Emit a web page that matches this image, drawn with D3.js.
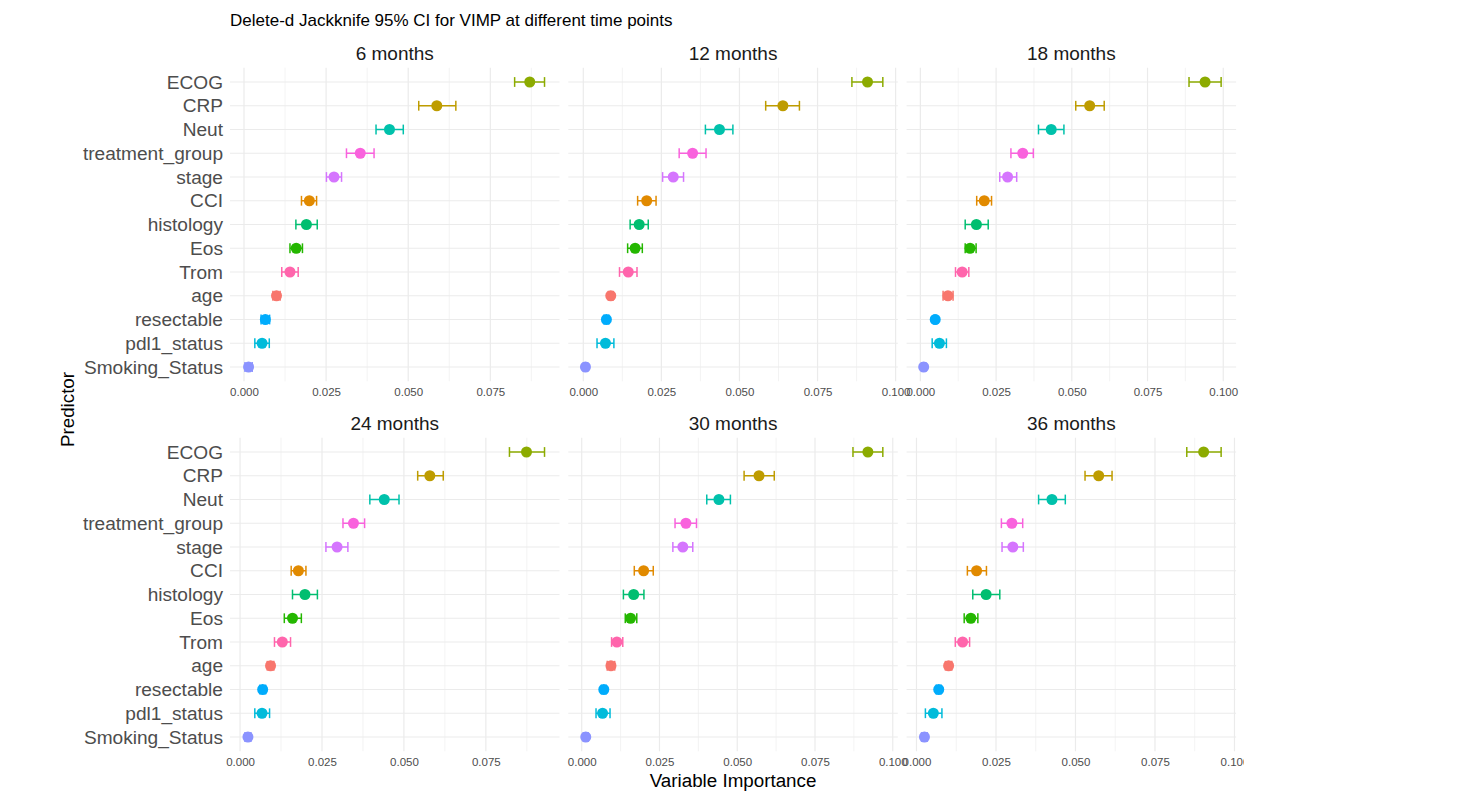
<!DOCTYPE html>
<html><head><meta charset="utf-8">
<script src="https://cdn.jsdelivr.net/npm/d3@7"></script>
<style>
body{margin:0;background:#fff;}
text{font-family:"Liberation Sans",Arial,Helvetica,sans-serif;}
</style>
</head><body>
<svg id="chart" width="1479" height="801"></svg>
<script>
// ---------------- data ----------------
const predictors = ["ECOG","CRP","Neut","treatment_group","stage","CCI","histology","Eos","Trom","age","resectable","pdl1_status","Smoking_Status"];
const timepoints = ["6 months","12 months","18 months","24 months","30 months","36 months"];

const vimp_6m  = [0.0870,0.0587,0.0443,0.0354,0.0274,0.0199,0.0190,0.0159,0.0140,0.0099,0.0065,0.0055,0.0014];
const lower_6m = [0.0824,0.0532,0.0402,0.0312,0.0251,0.0175,0.0158,0.0140,0.0115,0.0088,0.0052,0.0033,0.0003];
const upper_6m = [0.0915,0.0645,0.0485,0.0396,0.0297,0.0221,0.0223,0.0178,0.0165,0.0110,0.0078,0.0077,0.0025];

const vimp_12m  = [0.0910,0.0639,0.0436,0.0350,0.0288,0.0203,0.0179,0.0166,0.0144,0.0088,0.0074,0.0071,0.0007];
const lower_12m = [0.0860,0.0584,0.0391,0.0307,0.0254,0.0174,0.0150,0.0142,0.0116,0.0080,0.0066,0.0044,0.0000];
const upper_12m = [0.0959,0.0692,0.0479,0.0393,0.0321,0.0233,0.0208,0.0189,0.0172,0.0096,0.0082,0.0098,0.0014];

const vimp_18m  = [0.0940,0.0559,0.0432,0.0338,0.0288,0.0211,0.0185,0.0164,0.0138,0.0091,0.0049,0.0063,0.0011];
const lower_18m = [0.0887,0.0513,0.0390,0.0299,0.0262,0.0186,0.0148,0.0148,0.0116,0.0075,0.0045,0.0039,0.0004];
const upper_18m = [0.0993,0.0607,0.0474,0.0373,0.0318,0.0235,0.0224,0.0184,0.0160,0.0108,0.0053,0.0086,0.0018];

const vimp_24m  = [0.0874,0.0579,0.0440,0.0346,0.0296,0.0178,0.0198,0.0160,0.0129,0.0093,0.0069,0.0067,0.0024];
const lower_24m = [0.0822,0.0542,0.0396,0.0314,0.0262,0.0156,0.0160,0.0135,0.0105,0.0083,0.0060,0.0045,0.0015];
const upper_24m = [0.0929,0.0620,0.0485,0.0380,0.0329,0.0201,0.0236,0.0187,0.0154,0.0103,0.0078,0.0090,0.0033];

const vimp_30m  = [0.0920,0.0570,0.0441,0.0335,0.0325,0.0199,0.0167,0.0157,0.0113,0.0094,0.0071,0.0067,0.0013];
const lower_30m = [0.0872,0.0522,0.0402,0.0300,0.0293,0.0169,0.0134,0.0140,0.0096,0.0082,0.0063,0.0046,0.0005];
const upper_30m = [0.0968,0.0619,0.0478,0.0369,0.0357,0.0230,0.0200,0.0177,0.0132,0.0106,0.0079,0.0091,0.0021];

const vimp_36m  = [0.0903,0.0573,0.0426,0.0300,0.0303,0.0189,0.0219,0.0171,0.0145,0.0101,0.0070,0.0053,0.0025];
const lower_36m = [0.0850,0.0530,0.0384,0.0267,0.0269,0.0160,0.0177,0.0150,0.0122,0.0091,0.0062,0.0028,0.0016];
const upper_36m = [0.0958,0.0615,0.0468,0.0334,0.0336,0.0220,0.0262,0.0193,0.0167,0.0111,0.0078,0.0080,0.0034];

const xTickValues = [0, 0.025, 0.05, 0.075, 0.1];
const xMinorValues = [0.0125, 0.0375, 0.0625, 0.0875, 0.1125];

// ggplot hue palette, assigned by alphabetical factor level
const colorLevels = ["age","CCI","CRP","ECOG","Eos","histology","Neut","pdl1_status","resectable","Smoking_Status","stage","treatment_group","Trom"];
const colorValues = ["#F8766D","#E18A00","#BE9C00","#8CAB00","#24B700","#00BE70","#00C1AB","#00BBDA","#00ACFC","#8B93FF","#D575FE","#F962DD","#FF65AC"];

// ---------------- layout ----------------
const series = [
  {t:timepoints[0], v:vimp_6m,  lo:lower_6m,  hi:upper_6m},
  {t:timepoints[1], v:vimp_12m, lo:lower_12m, hi:upper_12m},
  {t:timepoints[2], v:vimp_18m, lo:lower_18m, hi:upper_18m},
  {t:timepoints[3], v:vimp_24m, lo:lower_24m, hi:upper_24m},
  {t:timepoints[4], v:vimp_30m, lo:lower_30m, hi:upper_30m},
  {t:timepoints[5], v:vimp_36m, lo:lower_36m, hi:upper_36m}
];
const color = d3.scaleOrdinal().domain(colorLevels).range(colorValues);

const panelW = 329.5, gapX = 8.8, left0 = 230;
const rowTops = [67.75, 437.75], panelH = 313.5;
const gridCol = "#EBEBEB";

const svg = d3.select("#chart");
svg.append("defs").append("clipPath").attr("id","crop")
  .append("rect").attr("x",0).attr("y",0).attr("width",1244).attr("height",801);
const root = svg.append("g").attr("clip-path","url(#crop)");

series.forEach((s,i)=>{
  const col = i%3, row = Math.floor(i/3);
  const x0 = left0 + col*(panelW+gapX), y0 = rowTops[row];
  const lo = d3.min(s.lo), hi = d3.max(s.hi), pad = (hi-lo)*0.05;
  const x = d3.scaleLinear().domain([lo-pad, hi+pad]).range([x0, x0+panelW]);
  const y = d3.scalePoint().domain(predictors).range([y0, y0+panelH]).padding(0.6);
  const dom = x.domain();
  const inDom = v => v >= dom[0] && v <= dom[1];

  const g = root.append("g");
  // minor vertical grid
  g.selectAll(".minor").data(xMinorValues.filter(inDom)).join("line")
    .attr("x1",d=>x(d)).attr("x2",d=>x(d)).attr("y1",y0).attr("y2",y0+panelH)
    .attr("stroke",gridCol).attr("stroke-width",0.6);
  // major vertical grid
  g.selectAll(".major").data(xTickValues.filter(inDom)).join("line")
    .attr("x1",d=>x(d)).attr("x2",d=>x(d)).attr("y1",y0).attr("y2",y0+panelH)
    .attr("stroke",gridCol).attr("stroke-width",1.2);
  // horizontal grid
  g.selectAll(".hgrid").data(predictors).join("line")
    .attr("x1",x0).attr("x2",x0+panelW).attr("y1",d=>y(d)).attr("y2",d=>y(d))
    .attr("stroke",gridCol).attr("stroke-width",1.2);

  const rows = predictors.map((p,k)=>({p, v:s.v[k], lo:s.lo[k], hi:s.hi[k]}));
  const capH = 4.9;
  // error bars
  const eb = g.selectAll(".eb").data(rows).join("g")
    .attr("stroke",d=>color(d.p)).attr("stroke-width",1.5).attr("fill","none");
  eb.append("line").attr("x1",d=>x(d.lo)).attr("x2",d=>x(d.hi)).attr("y1",d=>y(d.p)).attr("y2",d=>y(d.p));
  eb.append("line").attr("x1",d=>x(d.lo)).attr("x2",d=>x(d.lo)).attr("y1",d=>y(d.p)-capH).attr("y2",d=>y(d.p)+capH);
  eb.append("line").attr("x1",d=>x(d.hi)).attr("x2",d=>x(d.hi)).attr("y1",d=>y(d.p)-capH).attr("y2",d=>y(d.p)+capH);
  // points
  g.selectAll(".pt").data(rows).join("circle")
    .attr("cx",d=>x(d.v)).attr("cy",d=>y(d.p)).attr("r",5.5).attr("fill",d=>color(d.p));

  // x axis
  const ax = g.append("g").attr("transform",`translate(0,${y0+panelH})`)
    .call(d3.axisBottom(x).tickValues(xTickValues.filter(inDom)).tickFormat(d3.format(".3f")).tickSize(0).tickPadding(7));
  ax.select(".domain").remove();
  ax.selectAll("text").attr("font-size",11.5).attr("fill","#4D4D4D")
    .attr("font-family",'"Liberation Sans",Arial,sans-serif');

  // y axis (left column only)
  if (col === 0) {
    const ay = g.append("g").attr("transform",`translate(${x0},0)`)
      .call(d3.axisLeft(y).tickSize(0).tickPadding(7));
    ay.select(".domain").remove();
    ay.selectAll("text").attr("font-size",19.1).attr("fill","#4D4D4D")
      .attr("font-family",'"Liberation Sans",Arial,sans-serif');
  }

  // strip
  g.append("text").attr("x",x0+panelW/2).attr("y",y0-7.7).attr("text-anchor","middle")
    .attr("font-size",19).attr("fill","#1A1A1A").text(s.t);
});

// titles
root.append("text").attr("x",230).attr("y",26).attr("font-size",17).attr("fill","#000")
  .text("Delete-d Jackknife 95% CI for VIMP at different time points");
root.append("text").attr("x",left0 + (3*panelW+2*gapX)/2).attr("y",787.3).attr("text-anchor","middle")
  .attr("font-size",18.8).attr("fill","#000").text("Variable Importance");
root.append("text").attr("transform",`translate(73.5,${(rowTops[0]+rowTops[1]+panelH)/2}) rotate(-90)`)
  .attr("text-anchor","middle").attr("font-size",18.8).attr("fill","#000").text("Predictor");
</script>
</body></html>
